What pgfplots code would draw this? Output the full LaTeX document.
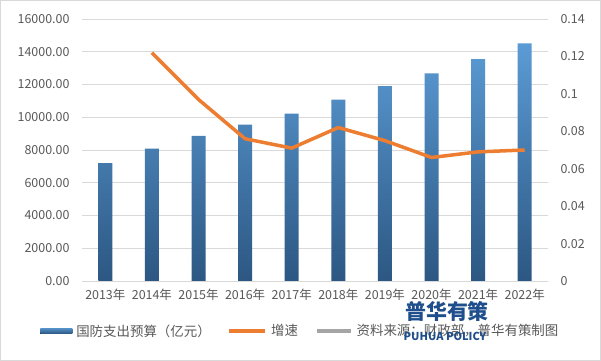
\documentclass[border=0pt]{standalone}
\usepackage{fontspec}
\setmainfont{Noto Sans CJK SC}
\usepackage{pgfplots}
\pgfplotsset{compat=1.18}
\definecolor{barTop}{HTML}{5B9BD5}
\definecolor{barBot}{HTML}{2C5782}
\definecolor{lineOr}{HTML}{ED7D31}
\definecolor{gridc}{HTML}{D9D9D9}
\definecolor{txt}{HTML}{595959}
\definecolor{wm}{HTML}{1F4E8C}
\definecolor{legGray}{HTML}{A5A5A5}
\begin{document}
\begin{tikzpicture}
\draw[gridc, line width=1bp, fill=white] (0.5bp,0.5bp) rectangle (600.5bp,360.5bp);
\begin{axis}[
  at={(82bp,80bp)}, anchor=south west,
  scale only axis, width=466bp, height=262bp,
  xmin=-0.5, xmax=9.5, ymin=0, ymax=16000,
  xtick={0,...,9},
  xticklabels={2013年,2014年,2015年,2016年,2017年,2018年,2019年,2020年,2021年,2022年},
  ytick={0,2000,...,16000}, scaled y ticks=false,
  ymajorgrids, grid style={gridc, line width=0.8bp},
  axis line style={draw=none}, tick style={draw=none},
  ticklabel style={text=txt, font=\fontsize{12.5}{14}\selectfont},
  yticklabel style={xshift=-9bp, /pgf/number format/fixed, /pgf/number format/fixed zerofill, /pgf/number format/precision=2, /pgf/number format/1000 sep={}, /pgf/number format/assume math mode=true},
  xticklabel style={yshift=-4bp},
  legend style={at={(-0.09,-0.191)}, anchor=west, draw=none, fill=none, inner sep=0pt,
    legend columns=3, font=\fontsize{13.5}{15}\selectfont, text=txt,
    /tikz/every even column/.append style={column sep=15bp},
    /tikz/every odd column/.append style={column sep=2bp}},
  legend cell align=left,
]
\addplot[ybar, bar width=14bp, draw=none, top color=barTop, bottom color=barBot,
  legend image code/.code={\fill[top color=barTop!80!barBot, bottom color=barBot] (0bp,-2.5bp) rectangle (32bp,2.5bp);}]
  coordinates {(0,7201.68) (1,8082.30) (2,8868.98) (3,9543.54) (4,10226.00) (5,11069.51) (6,11898.76) (7,12680.05) (8,13553.43) (9,14504.50)};
\addlegendentry{国防支出预算（亿元）}
\addlegendimage{legend image code/.code={\draw[lineOr, line width=3.5bp] (0bp,0bp) -- (36bp,0bp);}}
\addlegendentry{增速}
\addlegendimage{legend image code/.code={\draw[legGray, line width=3.5bp] (0bp,0bp) -- (34bp,0bp);}}
\addlegendentry{资料来源：财政部，普华有策制图}
\end{axis}
\begin{axis}[
  at={(82bp,80bp)}, anchor=south west,
  scale only axis, width=466bp, height=262bp,
  xmin=-0.5, xmax=9.5, ymin=0, ymax=0.14,
  axis y line*=right, hide x axis,
  ytick={0,0.02,...,0.141}, scaled y ticks=false,
  axis line style={draw=none}, tick style={draw=none},
  ticklabel style={text=txt, font=\fontsize{12.5}{14}\selectfont},
  yticklabel style={xshift=9bp, /pgf/number format/fixed, /pgf/number format/precision=2, /pgf/number format/assume math mode=true},
]
\addplot[lineOr, line width=3.5bp, no marks, line join=round]
  coordinates {(1,0.122) (2,0.097) (3,0.076) (4,0.071) (5,0.082) (6,0.075) (7,0.066) (8,0.069) (9,0.070)};
\end{axis}
\node[wm, font=\bfseries\fontsize{21}{21}\selectfont, inner sep=0pt] at (447bp,50bp) {普华有策};
\node[wm, font=\bfseries\fontsize{11}{11}\selectfont, inner sep=0pt] at (445bp,25bp) {PUHUA POLICY};
\end{tikzpicture}
\end{document}
